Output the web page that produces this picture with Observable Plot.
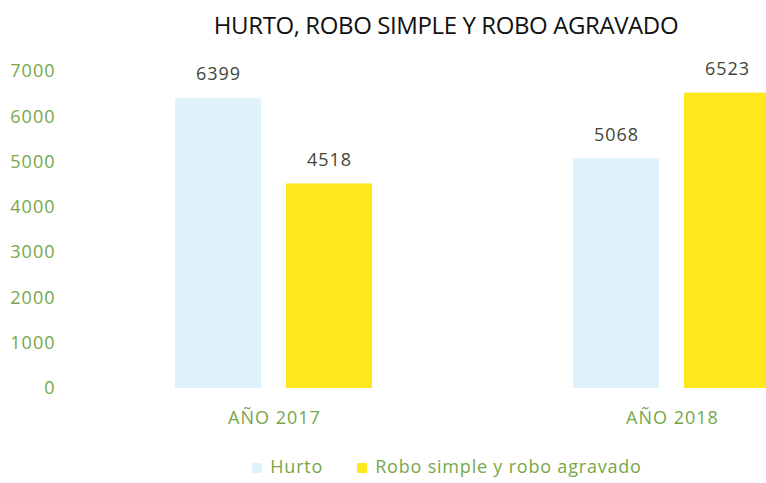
<!DOCTYPE html>
<html><head><meta charset="utf-8">
<script src="https://cdn.jsdelivr.net/npm/d3@7"></script>
<script src="https://cdn.jsdelivr.net/npm/@observablehq/plot@0.6"></script>
<style>
body{margin:0;background:#fff;}
#wrap{width:766px;height:483px;overflow:hidden;position:relative;background:#fff;}
#inner{width:900px;}
#title{height:50px;line-height:50px;text-align:center;font-family:"Open Sans";font-size:24px;color:#111;letter-spacing:-0.4px;padding-right:8px;}
#legend{height:44px;display:flex;justify-content:center;align-items:center;gap:34px;font-family:"Open Sans";font-size:18px;letter-spacing:0.8px;color:#76a74a;padding-top:16px;padding-right:6px;box-sizing:border-box;}
#legend span.sw{display:inline-block;width:10px;height:10px;margin-right:8px;}
svg text{letter-spacing:1px;}
</style></head>
<body><div id="wrap"><div id="inner">
<div id="title">HURTO, ROBO SIMPLE Y ROBO AGRAVADO</div>
<div id="chart"></div>
<div id="legend"></div>
</div></div>
<script>
const years = ["AÑO 2017", "AÑO 2018"];
const series = ["Hurto", "Robo simple y robo agravado"];
const hurto = [6399, 5068];
const robo = [4518, 6523];
const yTicks = [0, 1000, 2000, 3000, 4000, 5000, 6000, 7000];
const colors = ["#dff1fa", "#fde81e"];

const data = years.flatMap((yr, i) => [
  {year: yr, serie: series[0], value: hurto[i]},
  {year: yr, serie: series[1], value: robo[i]}
]);

const green = "#76a74a";
const chart = Plot.plot({
  width: 900, height: 386,
  marginTop: 21, marginBottom: 48, marginLeft: 75, marginRight: 29,
  style: {fontFamily: "Open Sans", fontSize: "18px", background: "#fff"},
  fx: {domain: years, padding: 0, label: null},
  x: {domain: series, paddingInner: 0.222, paddingOuter: 0.889, axis: null},
  y: {domain: [0, 7000], label: null},
  color: {domain: series, range: colors},
  marks: [
    Plot.barY(data, {fx: "year", x: "serie", y: "value", fill: "serie"}),
    Plot.text(data, {fx: "year", x: "serie", y: "value", text: d => String(d.value), dy: -24, fill: "#3e4639", fontSize: 18}),
    Plot.axisY({ticks: yTicks, tickSize: 0, tickPadding: 20, color: green, label: null, fontSize: 18, tickFormat: d => String(d)}),
    Plot.axisFx({anchor: "bottom", tickSize: 0, tickPadding: 23, color: green, label: null, fontSize: 18})
  ]
});
document.getElementById("chart").appendChild(chart);

const leg = document.getElementById("legend");
series.forEach((s, i) => {
  const item = document.createElement("div");
  item.innerHTML = `<span class="sw" style="background:${colors[i]}"></span>${s}`;
  leg.appendChild(item);
});
</script>
</body></html>
